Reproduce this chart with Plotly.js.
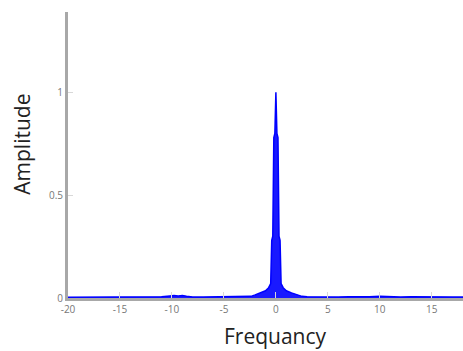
<!DOCTYPE html>
<html>
<head>
<meta charset="utf-8">
<script src="https://cdn.plot.ly/plotly-3.0.1.min.js"></script>
<style>html,body{margin:0;padding:0;background:#fff;}#chart{width:463px;height:351px;}</style>
</head>
<body>
<div id="chart"></div>
<script>
// Frequency axis values (Hz)
var frequency = [-20, -19, -18, -17, -16, -15, -14, -13, -12, -11, -10.2, -9.8, -9.4, -9, -8.6, -8, -7, -6, -5, -4, -3, -2.4,
  -2, -1.5, -1, -0.7, -0.5, -0.4, -0.3, -0.2, -0.1, 0, 0.1, 0.2, 0.3, 0.4, 0.5, 0.7, 1, 1.5, 2, 2.5,
  3, 4, 5, 6, 7, 8, 9, 10, 11, 12, 13, 14, 15, 16, 17, 18];
// Amplitude spectrum
var amplitude = [0.004, 0.004, 0.005, 0.004, 0.005, 0.006, 0.004, 0.005, 0.005, 0.006, 0.01, 0.012, 0.01, 0.012, 0.008, 0.005, 0.005, 0.006, 0.006, 0.005, 0.006, 0.008,
  0.015, 0.025, 0.035, 0.05, 0.07, 0.28, 0.3, 0.78, 0.8, 1.0, 0.8, 0.78, 0.3, 0.28, 0.07, 0.05, 0.035, 0.025, 0.015, 0.008,
  0.006, 0.005, 0.006, 0.005, 0.006, 0.005, 0.006, 0.008, 0.006, 0.005, 0.006, 0.005, 0.006, 0.005, 0.005, 0.005];
var xTicks = [-20, -15, -10, -5, 0, 5, 10, 15];
var yTicks = [0, 0.5, 1];
var xTitle = 'Frequancy';
var yTitle = 'Amplitude';

var trace = {
  x: frequency, y: amplitude, type: 'scatter', mode: 'lines',
  line: {color: '#0000ff', width: 1.5},
  fill: 'tozeroy', fillcolor: 'rgba(0,0,255,0.9)',
  hoverinfo: 'x+y'
};
var layout = {
  width: 463, height: 351,
  margin: {l: 68, r: 0, t: 12, b: 53},
  paper_bgcolor: '#fff', plot_bgcolor: '#fff',
  showlegend: false,
  font: {family: 'Open Sans, sans-serif', color: '#222'},
  xaxis: {
    range: [-20, 18], tickvals: xTicks, ticktext: xTicks.map(String),
    showgrid: false, zeroline: false,
    showline: true, linecolor: '#a8a8a8', linewidth: 3,
    ticks: 'inside', ticklen: 6, tickcolor: '#d8d8d8', tickwidth: 1,
    tickfont: {size: 10, color: '#777'}
  },
  yaxis: {
    range: [0, 1.39], tickvals: yTicks, ticktext: ['0', '0.5', '1'],
    showgrid: false, zeroline: false,
    showline: true, linecolor: '#a8a8a8', linewidth: 3,
    ticks: 'inside', ticklen: 5, tickcolor: '#d8d8d8', tickwidth: 1,
    tickfont: {size: 10, color: '#777'}
  },
  annotations: [
    {text: xTitle, xref: 'x', yref: 'paper', x: 0, y: -0.133, xanchor: 'center', yanchor: 'middle',
     showarrow: false, borderpad: 0, font: {size: 21, color: '#222'}},
    {text: yTitle, xref: 'paper', yref: 'paper', x: -0.115, y: 0.538, xanchor: 'center', yanchor: 'middle',
     textangle: -90, showarrow: false, font: {size: 21, color: '#222'}}
  ]
};
Plotly.newPlot('chart', [trace], layout, {staticPlot: true, displayModeBar: false});
</script>
</body>
</html>
